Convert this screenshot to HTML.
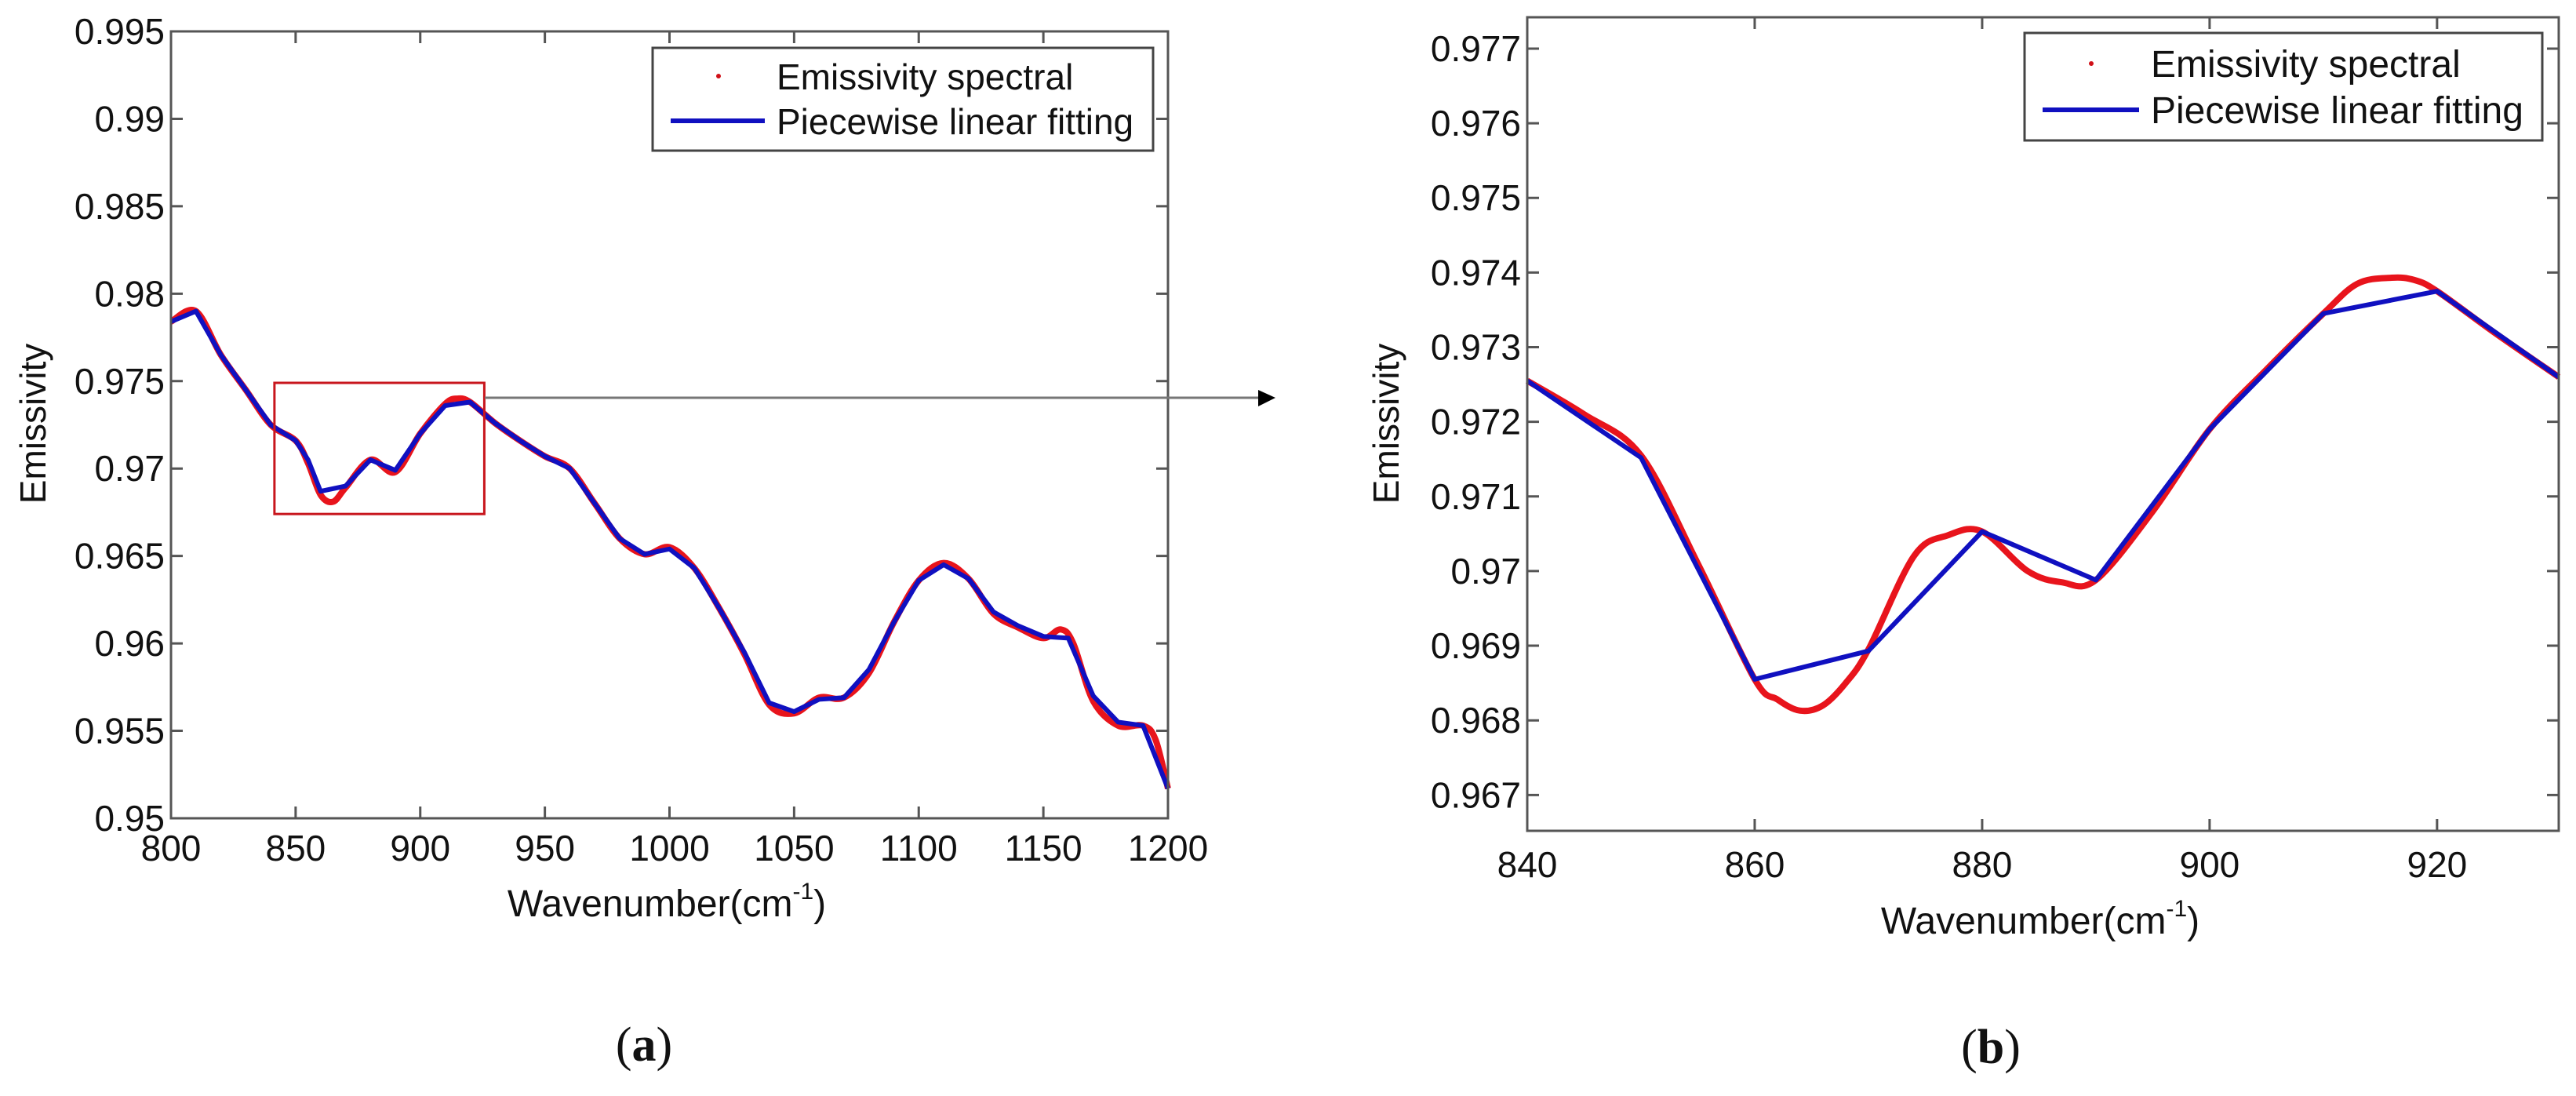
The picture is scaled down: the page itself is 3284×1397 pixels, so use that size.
<!DOCTYPE html>
<html><head><meta charset="utf-8"><style>
body{margin:0;background:#fff}
svg{display:block}
text{font-family:"Liberation Sans",sans-serif;fill:#111}
</style></head><body>
<svg id="fig" width="3284" height="1397" viewBox="0 0 3284 1397">
<g id="chartA"></g>
<g id="chartB"></g>
<g id="arrowG">
<line x1="618" y1="507" x2="1607" y2="507" stroke="#777" stroke-width="3"/>
<polygon points="1604,497 1626,507 1604,518" fill="#000"/>
</g>
<text x="821" y="1352" text-anchor="middle" style="font-family:'Liberation Serif',serif;font-size:62px">(<tspan font-weight="bold">a</tspan>)</text>
<text x="2538" y="1355" text-anchor="middle" style="font-family:'Liberation Serif',serif;font-size:62px">(<tspan font-weight="bold">b</tspan>)</text>
</svg>
<script>
// ---- Chart A data ----
const aFitX = [800,810,820,830,840,850,855,860,870,880,890,900,910,920,930,940,950,960,970,980,990,1000,1010,1020,1030,1040,1050,1060,1070,1080,1090,1100,1110,1120,1130,1140,1150,1160,1170,1180,1190,1200];
const aFitY = [0.9784,0.9790,0.9765,0.9745,0.9725,0.9716,0.9705,0.9687,0.9690,0.9705,0.9699,0.9720,0.9736,0.9738,0.9726,0.9716,0.9707,0.9700,0.9680,0.9660,0.9651,0.9654,0.9643,0.9620,0.9595,0.9566,0.9561,0.9568,0.9569,0.9585,0.9612,0.9636,0.9645,0.9637,0.9618,0.9610,0.9604,0.9603,0.9570,0.9555,0.9553,0.9517];
const aSpecX = [800,810,820,830,840,850,855,860,865,870,880,890,900,910,915,920,930,940,950,960,970,980,990,1000,1010,1020,1030,1040,1050,1060,1070,1080,1090,1100,1110,1120,1130,1140,1150,1157,1162,1170,1180,1190,1195,1200];
const aSpecY = [0.9784,0.9790,0.9765,0.9745,0.9725,0.9716,0.9703,0.9685,0.9681,0.9689,0.9705,0.9698,0.9720,0.9737,0.9740,0.9738,0.9726,0.9716,0.9707,0.9700,0.9680,0.9660,0.9651,0.9655,0.9643,0.9620,0.9594,0.9565,0.9560,0.9569,0.9569,0.9583,0.9612,0.9636,0.9646,0.9637,0.9617,0.9609,0.9603,0.9608,0.9600,0.9567,0.9553,0.9553,0.9545,0.9517];
const aXTicks = [800,850,900,950,1000,1050,1100,1150,1200];
const aYTicks = [0.95,0.955,0.96,0.965,0.97,0.975,0.98,0.985,0.99,0.995];
const aYLabels = ["0.95","0.955","0.96","0.965","0.97","0.975","0.98","0.985","0.99","0.995"];
const aZoomBox = [841.5,925.7,0.9674,0.9749];
// ---- Chart B data ----
const bFitX = [840,850,860,870,880,890,900,910,920,930.7];
const bFitY = [0.97255,0.97152,0.96855,0.96893,0.97053,0.96988,0.97190,0.97345,0.97375,0.97260];
const bSpecX = [840,845,850,855,860,862,864,866,868,870,874,877,880,884,887,890,895,900,905,910,913,916,918,920,925,930.7];
const bSpecY = [0.97255,0.97210,0.97155,0.97010,0.96855,0.96828,0.96813,0.96820,0.96850,0.96895,0.97020,0.97048,0.97053,0.97000,0.96985,0.96988,0.97080,0.97190,0.97270,0.97345,0.97385,0.97393,0.97390,0.97375,0.97320,0.97260];
const bXTicks = [840,860,880,900,920];
const bYTicks = [0.967,0.968,0.969,0.970,0.971,0.972,0.973,0.974,0.975,0.976,0.977];
const bYLabels = ["0.967","0.968","0.969","0.97","0.971","0.972","0.973","0.974","0.975","0.976","0.977"];

const NS="http://www.w3.org/2000/svg";
function mk(parent,tag,attrs){const e=document.createElementNS(NS,tag);for(const k in attrs)e.setAttribute(k,attrs[k]);parent.appendChild(e);return e;}
function smooth(pts){let d="M"+pts[0][0]+","+pts[0][1];for(let i=0;i<pts.length-1;i++){const p0=pts[Math.max(0,i-1)],p1=pts[i],p2=pts[i+1],p3=pts[Math.min(pts.length-1,i+2)];const c1=[p1[0]+(p2[0]-p0[0])/6,p1[1]+(p2[1]-p0[1])/6],c2=[p2[0]-(p3[0]-p1[0])/6,p2[1]-(p3[1]-p1[1])/6];d+=" C"+c1[0]+","+c1[1]+" "+c2[0]+","+c2[1]+" "+p2[0]+","+p2[1];}return d;}

function chart(g,cfg){
  const sx=v=>cfg.L+(v-cfg.x0)/(cfg.x1-cfg.x0)*(cfg.R-cfg.L);
  const sy=v=>cfg.B-(v-cfg.y0)/(cfg.y1-cfg.y0)*(cfg.B-cfg.T);
  cfg.yTicks.forEach((t,i)=>{
    const y=sy(t);
    const tk=mk(g,"path",{d:`M${cfg.L},${y}h15M${cfg.R},${y}h-15`,stroke:"#555","stroke-width":3});
    
    
    const tx=mk(g,"text",{x:cfg.L-8,y:y+16,"text-anchor":"end","font-size":46});
    tx.textContent=cfg.yLabels[i];
    
    
  });
  cfg.xTicks.forEach(t=>{
    const x=sx(t);
    const tk=mk(g,"path",{d:`M${x},${cfg.B}v-15M${x},${cfg.T}v15`,stroke:"#555","stroke-width":3});
    
    
    const tx=mk(g,"text",{x:x,y:cfg.xLabY,"text-anchor":"middle","font-size":46});
    tx.textContent=String(t);
    
    
  });
  const spec=mk(g,"path",{d:smooth(cfg.sX.map((x,i)=>[sx(x),sy(cfg.sY[i])])),fill:"none",stroke:"#e8141c","stroke-width":8,"stroke-linejoin":"round"});
  
  
  const fit=mk(g,"polyline",{points:cfg.fX.map((x,i)=>sx(x)+","+sy(cfg.fY[i])).join(" "),fill:"none",stroke:"#1010c0","stroke-width":6,"stroke-linejoin":"round"});
  
  
  const frame=mk(g,"rect",{x:cfg.L,y:cfg.T,width:cfg.R-cfg.L,height:cfg.B-cfg.T,fill:"none",stroke:"#555","stroke-width":3});
  
  
  const xl=mk(g,"text",{x:cfg.xTitleX,y:cfg.xTitleY,"text-anchor":"middle","font-size":48});
  xl.innerHTML='Wavenumber(cm<tspan font-size="30" dy="-22">-1</tspan><tspan dy="22">)</tspan>';
  
  
  const yl=mk(g,"text",{x:0,y:0,"text-anchor":"middle","font-size":46,transform:`translate(${cfg.yTitleX},540) rotate(-90)`});
  yl.textContent="Emissivity";
  
  
  const lg=cfg.leg;
  const lb=mk(g,"rect",{x:lg.x,y:lg.y,width:lg.w,height:lg.h,fill:"#fff",stroke:"#444","stroke-width":3});
  
  
  const dot=mk(g,"circle",{cx:lg.dotX,cy:lg.r1,r:3,fill:"#d01018"});
  
  
  const ln=mk(g,"line",{x1:lg.l1,x2:lg.l2,y1:lg.r2,y2:lg.r2,stroke:"#1010c0","stroke-width":6});
  
  
  const t1=mk(g,"text",{x:lg.tx,y:lg.r1+17,"font-size":lg.fs});
  t1.textContent="Emissivity spectral";
  
  
  const t2=mk(g,"text",{x:lg.tx,y:lg.r2+17,"font-size":lg.fs});
  t2.textContent="Piecewise linear fitting";
  
  
  return {sx,sy};
}
const A=chart(document.getElementById("chartA"),{L:218,R:1489,T:40,B:1043,x0:800,x1:1200,y0:0.95,y1:0.995,
  xTicks:aXTicks,yTicks:aYTicks,yLabels:aYLabels,sX:aSpecX,sY:aSpecY,fX:aFitX,fY:aFitY,xLabY:1097,
  xTitleX:850,xTitleY:1168,yTitleX:58,
  leg:{x:832,y:61,w:638,h:131,dotX:916,r1:97,r2:154,l1:855,l2:975,tx:990,fs:46}});
const zb=mk(document.getElementById("chartA"),"rect",{x:A.sx(aZoomBox[0]),y:A.sy(aZoomBox[3]),width:A.sx(aZoomBox[1])-A.sx(aZoomBox[0]),height:A.sy(aZoomBox[2])-A.sy(aZoomBox[3]),fill:"none",stroke:"#c8161d","stroke-width":3});


chart(document.getElementById("chartB"),{L:1947,R:3262,T:22,B:1059,x0:840,x1:930.7,y0:0.96652,y1:0.97742,
  xTicks:bXTicks,yTicks:bYTicks,yLabels:bYLabels,sX:bSpecX,sY:bSpecY,fX:bFitX,fY:bFitY,xLabY:1118,
  xTitleX:2601,xTitleY:1190,yTitleX:1783,
  leg:{x:2581,y:42,w:660,h:137,dotX:2666,r1:81,r2:140,l1:2604,l2:2727,tx:2742,fs:48}});
</script>
</body></html>
